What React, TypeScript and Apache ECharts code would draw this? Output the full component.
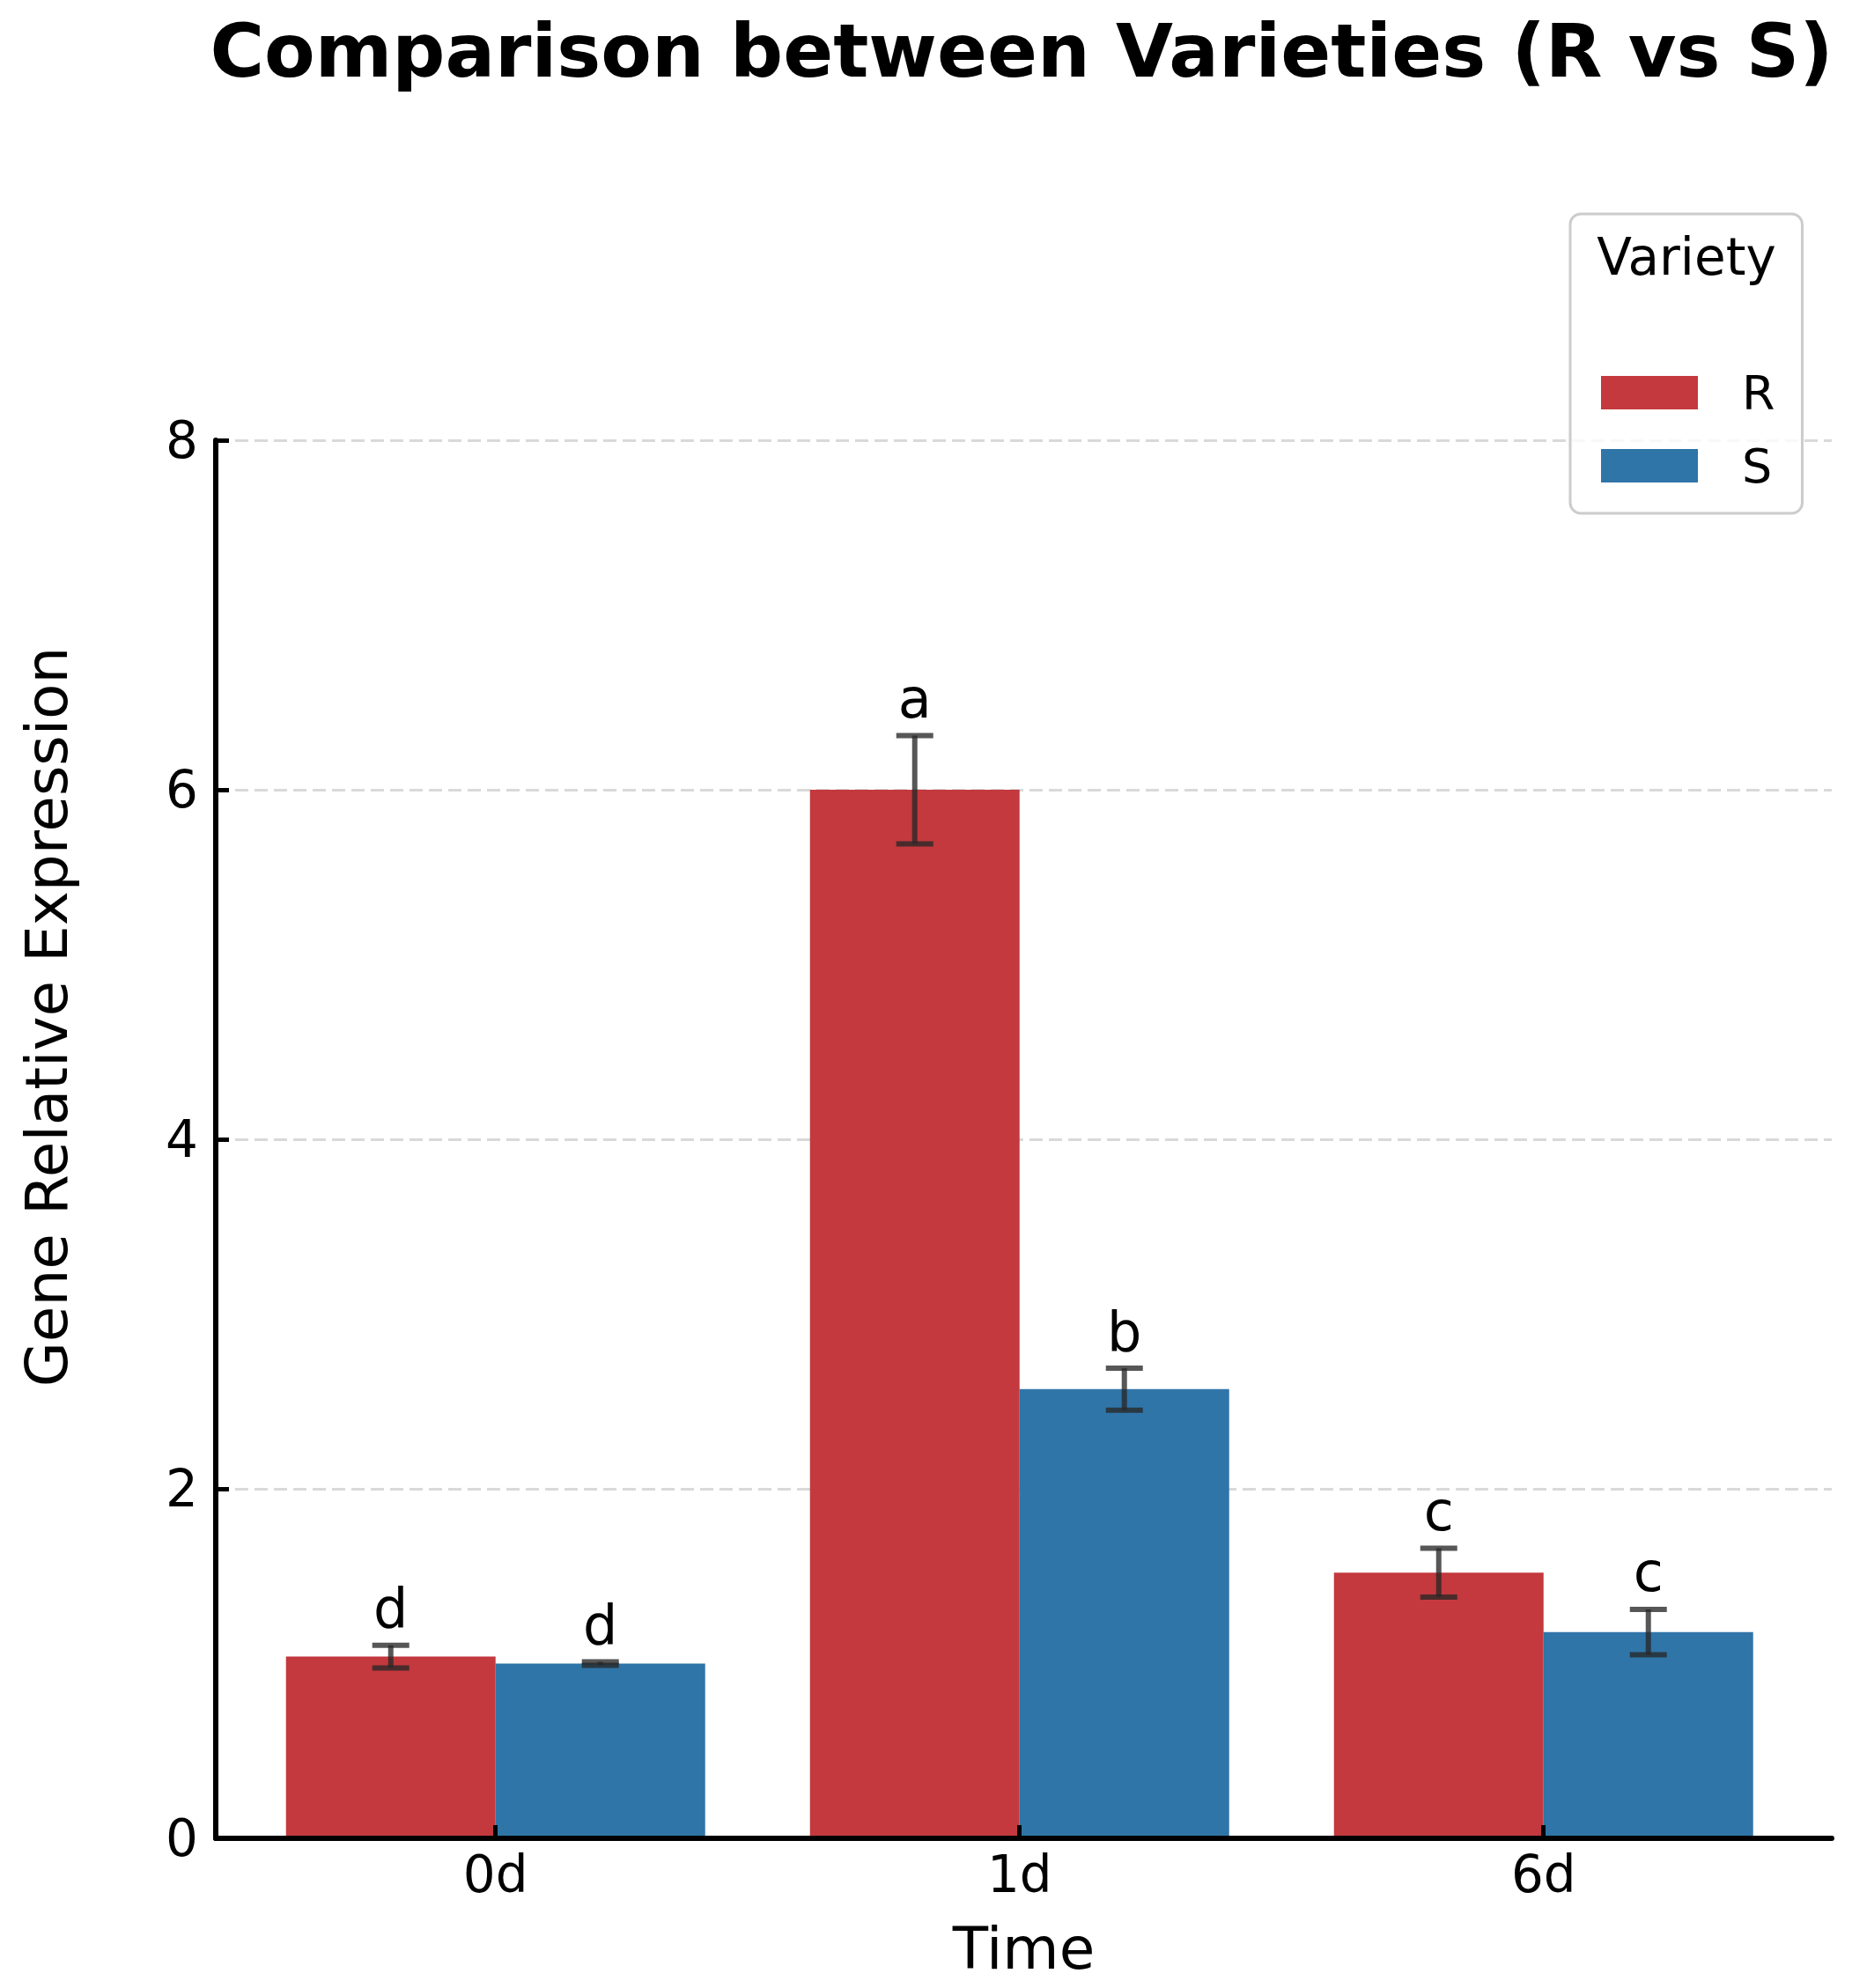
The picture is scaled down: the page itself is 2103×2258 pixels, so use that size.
import React, { useEffect, useRef } from "react";
import * as echarts from "echarts";

const CATEGORIES = ["0d", "1d", "6d"];
const VARIETIES = ["R", "S"];
const R_MEAN = [1.04, 6.0, 1.52];
const R_ERR = [0.065, 0.31, 0.14];
const S_MEAN = [1.0, 2.57, 1.18];
const S_ERR = [0.01, 0.12, 0.13];
const R_LETTERS = ["d", "a", "c"];
const S_LETTERS = ["d", "b", "c"];
const Y_MIN = 0;
const Y_MAX = 8;
const Y_INTERVAL = 2;
const X_MIN = -0.534;
const X_MAX = 2.55;

const COLOR_R = "#C3393D";
const COLOR_S = "#2F75A8";
const FONT = "DejaVu Sans";

function barSeries(name: string, color: string, means: number[], offset: number) {
  return {
    type: "custom",
    name,
    itemStyle: { color },
    data: means.map((m, i) => [i, m]),
    encode: { x: 0, y: 1 },
    z: 2,
    renderItem: (params: any, api: any) => {
      const i = api.value(0);
      const v = api.value(1);
      const p0 = api.coord([i + offset, v]);
      const p1 = api.coord([i + offset + 0.4, 0]);
      return {
        type: "rect",
        shape: { x: p0[0], y: p0[1], width: p1[0] - p0[0], height: p1[1] - p0[1] },
        style: { fill: color },
      };
    },
  };
}

function errSeries(name: string, means: number[], errs: number[], letters: string[], offset: number) {
  return {
    type: "custom",
    name,
    data: means.map((m, i) => [i, m, errs[i]]),
    encode: { x: 0, y: 1 },
    z: 5,
    renderItem: (params: any, api: any) => {
      const x = api.value(0) + offset;
      const m = api.value(1);
      const e = api.value(2);
      const top = api.coord([x, m + e]);
      const bot = api.coord([x, m - e]);
      const half = 21;
      const ls = { stroke: "rgba(40,40,40,0.78)", lineWidth: 6 };
      return {
        type: "group",
        children: [
          { type: "line", shape: { x1: top[0], y1: top[1], x2: bot[0], y2: bot[1] }, style: ls },
          { type: "line", shape: { x1: top[0] - half, y1: top[1], x2: top[0] + half, y2: top[1] }, style: ls },
          { type: "line", shape: { x1: bot[0] - half, y1: bot[1], x2: bot[0] + half, y2: bot[1] }, style: ls },
          {
            type: "text",
            x: top[0],
            y: top[1] - 42,
            style: {
              text: letters[params.dataIndex],
              fill: "#000",
              font: `62px ${FONT}`,
              fontSize: 62,
              fontFamily: FONT,
              textAlign: "center",
              textVerticalAlign: "middle",
              align: "center",
              verticalAlign: "middle",
            },
          },
        ],
      };
    },
  };
}

export default function App() {
  const ref = useRef<HTMLDivElement>(null);
  useEffect(() => {
    if (!ref.current) return;
    const chart = echarts.init(ref.current, null, { renderer: "svg" });
    chart.setOption({
      animation: false,
      backgroundColor: "#fff",
      textStyle: { fontFamily: FONT },
      grid: { left: 245, right: 23, top: 500, bottom: 170 },
      legend: {
        data: VARIETIES,
        orient: "vertical",
        left: 1783,
        top: 243,
        icon: "rect",
        itemWidth: 110,
        itemHeight: 38,
        itemGap: 29,
        padding: [176, 31, 27, 35],
        backgroundColor: "rgba(255,255,255,0.8)",
        borderColor: "#cccccc",
        borderWidth: 3,
        borderRadius: 12,
        textStyle: { fontSize: 54, color: "#000", fontFamily: FONT, lineHeight: 38, padding: [0, 0, 0, 45] },
      },
      graphic: [
        {
          type: "text",
          x: 1160,
          y: 58,
          z: 100,
          style: {
            text: "Comparison between Varieties (R vs S)",
            fill: "#000",
            font: `bold 84px ${FONT}`,
            textAlign: "center",
            textVerticalAlign: "middle",
            align: "center",
            verticalAlign: "middle",
          },
        },
        {
          type: "text",
          x: 1915,
          y: 292,
          z: 100,
          style: {
            text: "Variety",
            fill: "#000",
            font: `58px ${FONT}`,
            textAlign: "center",
            textVerticalAlign: "middle",
            align: "center",
            verticalAlign: "middle",
          },
        },
        {
          type: "text",
          x: 53,
          y: 1155,
          rotation: Math.PI / 2,
          z: 100,
          style: {
            text: "Gene Relative Expression",
            fill: "#000",
            font: `66px ${FONT}`,
            textAlign: "center",
            textVerticalAlign: "middle",
            align: "center",
            verticalAlign: "middle",
          },
        },
      ],
      xAxis: {
        type: "value",
        min: X_MIN,
        max: X_MAX,
        z: 10,
        name: "Time",
        nameLocation: "middle",
        nameGap: 92,
        nameTextStyle: { fontSize: 66, color: "#000", fontFamily: FONT },
        axisLine: { show: true, onZero: false, lineStyle: { color: "#000", width: 6 } },
        axisTick: { show: true, inside: true, length: 15, customValues: [0, 1, 2], lineStyle: { color: "#000", width: 5 } },
        axisLabel: {
          customValues: [0, 1, 2],
          formatter: (v: number) => CATEGORIES[Math.round(v)] ?? "",
          fontSize: 58,
          color: "#000",
          margin: 12,
          fontFamily: FONT,
        },
        splitLine: { show: false },
      },
      yAxis: {
        type: "value",
        min: Y_MIN,
        max: Y_MAX,
        interval: Y_INTERVAL,
        axisLine: { show: true, onZero: false, lineStyle: { color: "#000", width: 6 } },
        axisTick: { show: true, inside: true, length: 15, lineStyle: { color: "#000", width: 5 } },
        axisLabel: { fontSize: 58, color: "#000", margin: 20, fontFamily: FONT },
        splitLine: { show: true, lineStyle: { color: "#d9d9d9", width: 3, type: [15, 7] } },
      },
      series: [
        barSeries("R", COLOR_R, R_MEAN, -0.4),
        barSeries("S", COLOR_S, S_MEAN, 0),
        errSeries("R_err", R_MEAN, R_ERR, R_LETTERS, -0.2),
        errSeries("S_err", S_MEAN, S_ERR, S_LETTERS, 0.2),
      ],
    });
    return () => chart.dispose();
  }, []);
  return (
    <div style={{ position: "absolute", left: 0, top: 0, width: 2103, height: 2258, background: "#fff" }}>
      <div ref={ref} style={{ width: 2103, height: 2258 }} />
    </div>
  );
}
